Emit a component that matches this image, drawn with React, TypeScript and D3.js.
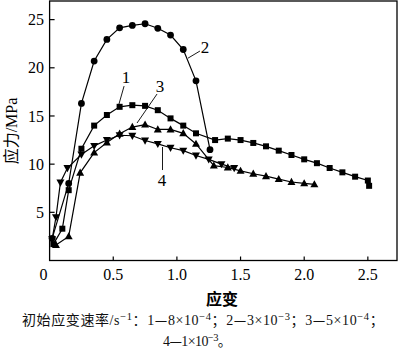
import React from "react";
import * as d3 from "d3";

// Curve 1 (squares), initial strain rate 8e-4
const c1X = [0.03, 0.1, 0.15, 0.25, 0.35, 0.45, 0.55, 0.65, 0.75, 0.85, 0.95, 1.05, 1.15, 1.3, 1.4, 1.5, 1.6, 1.7, 1.8, 1.9, 2.0, 2.1, 2.2, 2.3, 2.4, 2.5, 2.51];
const c1Y = [1.7, 3.3, 7.3, 11.6, 14.0, 15.1, 15.95, 16.12, 16.05, 15.6, 14.75, 14.0, 13.2, 12.5, 12.65, 12.5, 12.2, 11.85, 11.4, 10.95, 10.5, 10.1, 9.6, 9.15, 8.7, 8.3, 7.75];
// Curve 2 (circles), 3e-3
const c2X = [0.02, 0.15, 0.25, 0.35, 0.45, 0.55, 0.65, 0.75, 0.85, 0.95, 1.05, 1.15, 1.26];
const c2Y = [2.3, 8.0, 16.3, 20.7, 22.95, 24.15, 24.4, 24.57, 24.1, 23.4, 21.9, 18.65, 11.5];
// Curve 3 (up triangles), 5e-4
const c3X = [0.05, 0.15, 0.24, 0.35, 0.45, 0.55, 0.65, 0.75, 0.85, 0.95, 1.05, 1.15, 1.29, 1.4, 1.5, 1.6, 1.7, 1.8, 1.9, 2.0, 2.08];
const c3Y = [1.6, 2.5, 9.1, 11.2, 12.25, 13.15, 13.85, 14.1, 13.6, 13.6, 13.2, 12.1, 9.85, 9.65, 9.3, 9.0, 8.75, 8.45, 8.15, 8.0, 7.9];
// Curve 4 (down triangles), 1e-3
const c4X = [0.02, 0.05, 0.085, 0.14, 0.25, 0.35, 0.45, 0.55, 0.65, 0.75, 0.85, 0.95, 1.05, 1.15, 1.25, 1.35, 1.45];
const c4Y = [2.2, 4.5, 8.1, 9.6, 11.0, 11.9, 12.5, 13.0, 12.95, 12.45, 12.1, 11.7, 11.4, 10.9, 10.5, 10.0, 9.6];

const xTicks = [0.5, 1.0, 1.5, 2.0, 2.5];
const xTickLabels = ["0.5", "1.0", "1.5", "2.0", "2.5"];
const yTicks = [5, 10, 15, 20, 25];
const yTickLabels = ["5", "10", "15", "20", "25"];

const curveLabels = ["1", "2", "3", "4"];
const labelPos: [number, number][] = [[0.6, 19.05], [1.22, 22.17], [0.867, 18.1], [0.883, 8.35]];
const leaderFrom: [number, number][] = [[0.585, 18.1], [1.181, 21.74], [0.844, 17.28], [0.887, 11.78]];
const leaderTo: [number, number][] = [[0.545, 16.24], [1.087, 21.0], [0.687, 14.27], [0.887, 9.39]];

const xTitle = "应变";
const captionLead = "初始应变速率";
const rateLabels = ["1", "2", "3", "4"];
const rateMant = ["8", "3", "5", "1"];
const rateExp = ["−4", "−3", "−4", "−3"];

const W = 400, H = 354;
const plotL = 49.6, plotR = 397, plotT = 1, plotB = 260.5;

export default function App() {
  const x = d3.scaleLinear().domain([0, (plotR - plotL) / 127.3]).range([plotL, plotR]);
  const y = d3.scaleLinear().domain([0, (plotB - plotT) / 9.635]).range([plotB, plotT]);
  const line = d3.line<[number, number]>().x(d => x(d[0])).y(d => y(d[1]));
  const zip = (a: number[], b: number[]) => a.map((v, i) => [v, b[i]] as [number, number]);
  const s1 = zip(c1X, c1Y), s2 = zip(c2X, c2Y), s3 = zip(c3X, c3Y), s4 = zip(c4X, c4Y);
  const serif = "'Liberation Serif', 'Times New Roman', 'Noto Sans CJK SC', serif";
  const cjk = "'Noto Sans CJK SC', 'Liberation Serif', serif";
  const sq = 6, tri = 4.2;
  const triUp = (px: number, py: number) => `M${px},${py - tri}L${px + tri * 0.95},${py + tri * 0.7}L${px - tri * 0.95},${py + tri * 0.7}Z`;
  const triDown = (px: number, py: number) => `M${px},${py + tri}L${px + tri * 0.95},${py - tri * 0.7}L${px - tri * 0.95},${py - tri * 0.7}Z`;
  const rate = (i: number, sep: string) => [
    <tspan key={"a" + i}>{rateLabels[i]}</tspan>,
    <tspan key={"d" + i} fontFamily={cjk}>—</tspan>,
    <tspan key={"m" + i}>{rateMant[i]}×10</tspan>,
    <tspan key={"e" + i} dy={-5} fontSize={10.5}>{rateExp[i]}</tspan>,
    <tspan key={"s" + i} dy={5} fontFamily={cjk}>{sep}</tspan>,
  ];
  return (
    <svg width={W} height={H} style={{ position: "absolute", left: 0, top: 0, background: "#fff" }}>
      <rect x={plotL} y={plotT} width={plotR - plotL} height={plotB - plotT} fill="none" stroke="#000" strokeWidth={1.3} />
      {xTicks.map((t, i) => (
        <g key={"xt" + i}>
          <line x1={x(t)} x2={x(t)} y1={plotB} y2={plotB - 4} stroke="#000" strokeWidth={1.2} />
          <text x={x(t)} y={280} textAnchor="middle" fontFamily={serif} fontSize={16}>{xTickLabels[i]}</text>
        </g>
      ))}
      <text x={43.5} y={280} textAnchor="middle" fontFamily={serif} fontSize={16}>0</text>
      {yTicks.map((t, i) => (
        <g key={"yt" + i}>
          <line x1={plotL} x2={plotL + 5} y1={y(t)} y2={y(t)} stroke="#000" strokeWidth={1.2} />
          <text x={44} y={y(t)} dy="0.35em" textAnchor="end" fontFamily={serif} fontSize={16}>{yTickLabels[i]}</text>
        </g>
      ))}
      <text transform={`translate(17,${131}) rotate(-90)`} textAnchor="middle" fontFamily={serif} fontSize={16}>
        <tspan fontFamily={cjk}>应力</tspan><tspan>/MPa</tspan>
      </text>
      <text x={222} y={305} textAnchor="middle" fontFamily={cjk} fontSize={16} fontWeight="bold">{xTitle}</text>

      {[s1, s2, s3, s4].map((s, i) => (
        <path key={"l" + i} d={line(s) || ""} fill="none" stroke="#000" strokeWidth={1.2} />
      ))}
      {s1.map((d, i) => <rect key={"m1" + i} x={x(d[0]) - sq / 2} y={y(d[1]) - sq / 2} width={sq} height={sq} fill="#000" />)}
      {s2.map((d, i) => <circle key={"m2" + i} cx={x(d[0])} cy={y(d[1])} r={3.4} fill="#000" />)}
      {s3.map((d, i) => <path key={"m3" + i} d={triUp(x(d[0]), y(d[1]))} fill="#000" />)}
      {s4.map((d, i) => <path key={"m4" + i} d={triDown(x(d[0]), y(d[1]))} fill="#000" />)}

      {curveLabels.map((lab, i) => (
        <g key={"cl" + i}>
          <line x1={x(leaderFrom[i][0])} y1={y(leaderFrom[i][1])} x2={x(leaderTo[i][0])} y2={y(leaderTo[i][1])} stroke="#000" strokeWidth={0.9} />
          <text x={x(labelPos[i][0])} y={y(labelPos[i][1])} dy="0.35em" textAnchor="middle" fontFamily={serif} fontSize={17}>{lab}</text>
        </g>
      ))}

      <text x={22} y={325} fontFamily={serif} fontSize={14} fill="#111" letterSpacing={0.6}>
        <tspan fontFamily={cjk}>{captionLead}</tspan>/s<tspan dy={-5} fontSize={10.5}>−1</tspan><tspan dy={5} fontFamily={cjk}>：</tspan>
        {rate(0, "；")}{rate(1, "；")}{rate(2, "；")}
      </text>
      <text x={163} y={346} fontFamily={serif} fontSize={14} fill="#111" letterSpacing={-0.6}>
        {rate(3, "。")}
      </text>
    </svg>
  );
}
